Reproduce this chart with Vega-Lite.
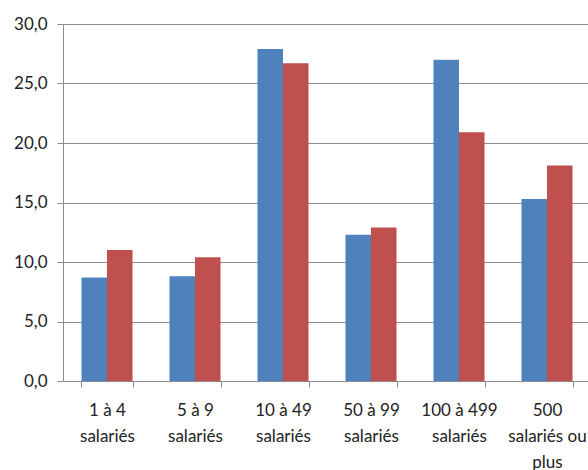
{
  "$schema": "https://vega.github.io/schema/vega-lite/v6.json",
  "width": 528,
  "height": 357,
  "autosize": {"type": "none"},
  "padding": {"left": 63, "top": 24, "right": 0, "bottom": 89},
  "background": "white",
  "config": {"view": {"stroke": null}, "font": "Lato"},
  "data": {
    "values": [
      {"tranche": "1 à 4 salariés", "serie": "Série1", "valeur": 8.7},
      {"tranche": "1 à 4 salariés", "serie": "Série2", "valeur": 11.0},
      {"tranche": "5 à 9 salariés", "serie": "Série1", "valeur": 8.8},
      {"tranche": "5 à 9 salariés", "serie": "Série2", "valeur": 10.4},
      {"tranche": "10 à 49 salariés", "serie": "Série1", "valeur": 27.9},
      {"tranche": "10 à 49 salariés", "serie": "Série2", "valeur": 26.7},
      {"tranche": "50 à 99 salariés", "serie": "Série1", "valeur": 12.3},
      {"tranche": "50 à 99 salariés", "serie": "Série2", "valeur": 12.9},
      {"tranche": "100 à 499 salariés", "serie": "Série1", "valeur": 27.0},
      {"tranche": "100 à 499 salariés", "serie": "Série2", "valeur": 20.9},
      {"tranche": "500 salariés ou plus", "serie": "Série1", "valeur": 15.3},
      {"tranche": "500 salariés ou plus", "serie": "Série2", "valeur": 18.1}
    ]
  },
  "mark": {"type": "bar"},
  "encoding": {
    "x": {
      "field": "tranche",
      "type": "nominal",
      "sort": null,
      "scale": {"paddingInner": 0.42, "paddingOuter": 0.21},
      "axis": {
        "title": null,
        "labelAngle": 0,
        "labelFont": "Lato",
        "labelFontSize": 17,
        "labelColor": "#222222",
        "labelLineHeight": 26,
        "labelBaseline": "top",
        "labelPadding": 15,
        "labelExpr": "isValid(datum.value) ? split(replace(replace(datum.value, ' salariés', '|salariés'), ' ou plus', ' ou|plus'), '|') : ''",
        "tickBand": "extent",
        "tickSize": 6,
        "tickColor": "#8c8c8c",
        "domainColor": "#8c8c8c",
        "grid": false,
        "labelOverlap": false,
        "labelBound": false
      }
    },
    "xOffset": {"field": "serie", "type": "nominal", "scale": {"paddingInner": 0, "paddingOuter": 0}},
    "y": {
      "field": "valeur",
      "type": "quantitative",
      "scale": {"domain": [0, 30], "nice": false},
      "axis": {
        "title": null,
        "values": [0, 5, 10, 15, 20, 25, 30],
        "labelExpr": "replace(format(datum.value, '.1f'), '.', ',')",
        "labelFont": "Lato",
        "labelFontSize": 17,
        "labelColor": "#222222",
        "labelPadding": 10,
        "tickSize": 6,
        "tickColor": "#8c8c8c",
        "domainColor": "#8c8c8c",
        "gridColor": "#8c8c8c",
        "gridWidth": 1
      }
    },
    "color": {
      "field": "serie",
      "type": "nominal",
      "scale": {"range": ["#4F81BD", "#C0504D"]},
      "legend": null
    }
  }
}
